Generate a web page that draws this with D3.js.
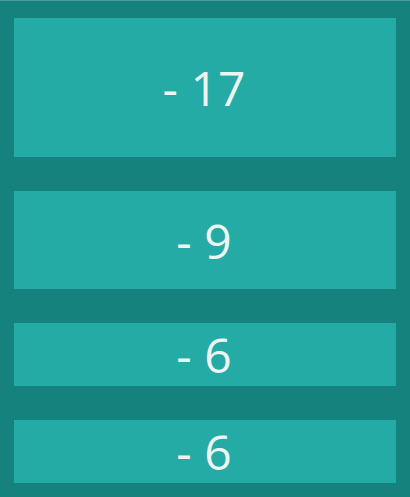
<!DOCTYPE html>
<html lang="en">
  <head>
    <meta charset="UTF-8" />
    <title>Tiles</title>
    <style>
      html,
      body {
        margin: 0;
        background: #15827e;
        font-family: 'Open Sans', sans-serif;
      }
    </style>
  </head>
  <body>
    <div id="chart"></div>
    <script src="https://cdnjs.cloudflare.com/ajax/libs/d3/7.8.5/d3.min.js"></script>
    <script>
      const labels = ["- 17", "- 9", "- 6", "- 6"];
      const values = [17, 9, 6, 6];
      // tile height per value
      const sizeDomain = [6, 9, 17];
      const sizeRange = [63, 98, 139];

      const options = {
        width: 410,
        height: 497,
        margin: { top: 18, right: 14, bottom: 14, left: 14 },
        gap: 34,
        bg: "#15827e",
        tile: "#24aba5",
        text: "#eef4f1",
      };

      const h = d3.scaleLinear().domain(sizeDomain).range(sizeRange);

      const svg = d3
        .select("#chart")
        .append("svg")
        .attr("width", options.width)
        .attr("height", options.height)
        .style("display", "block");

      svg
        .append("rect")
        .attr("width", options.width)
        .attr("height", options.height)
        .attr("fill", options.bg);

      svg
        .append("line")
        .attr("x1", 0)
        .attr("x2", options.width)
        .attr("y1", 0.5)
        .attr("y2", 0.5)
        .attr("stroke", "#4d9d9b");

      let y = options.margin.top;
      const tiles = values.map((v, i) => {
        const t = { v, label: labels[i], y, h: h(v) };
        y += t.h + options.gap;
        return t;
      });

      const x0 = options.margin.left,
        iw = options.width - options.margin.left - options.margin.right;

      const g = svg
        .selectAll("g.tile")
        .data(tiles)
        .join("g")
        .attr("class", "tile")
        .attr("transform", (d) => `translate(${x0},${d.y})`);

      g.append("rect")
        .attr("width", iw)
        .attr("height", (d) => d.h)
        .attr("fill", options.tile);

      g.append("text")
        .attr("x", iw / 2 - 1)
        .attr("y", (d) => d.h / 2)
        .attr("text-anchor", "middle")
        .attr("dominant-baseline", "central")
        .attr("fill", options.text)
        .style("font-size", "48px")
        .text((d) => d.label);
    </script>
  </body>
</html>
